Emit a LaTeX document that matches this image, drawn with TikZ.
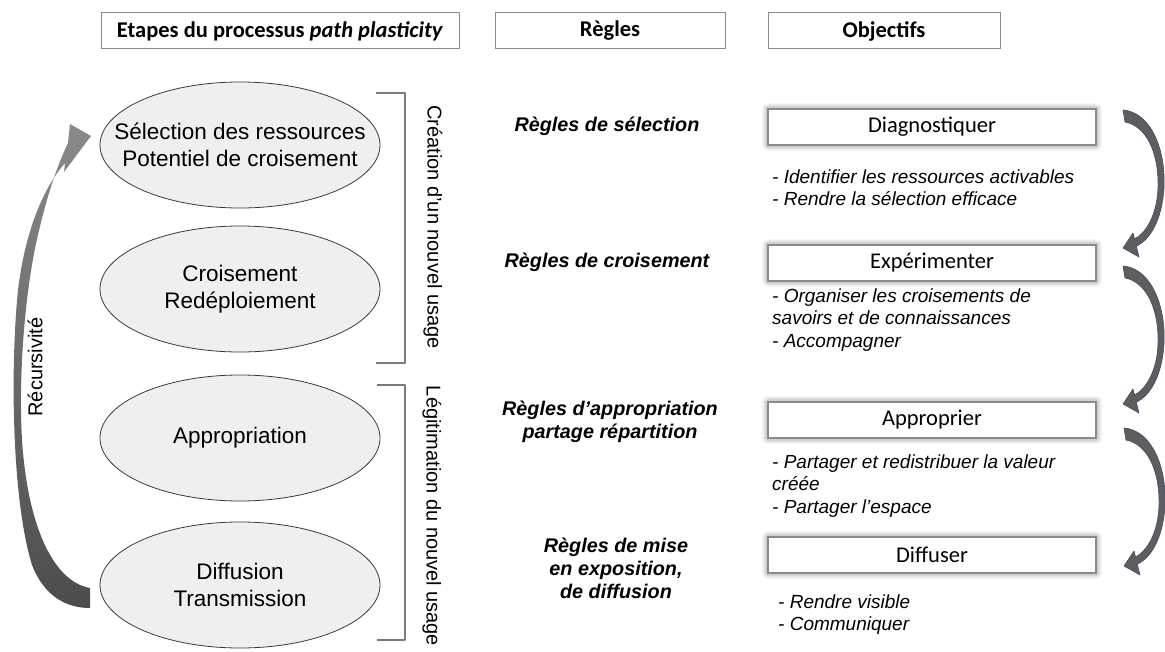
\documentclass[tikz,border=0pt]{standalone}
\usepackage{fontspec}
\setmainfont{Liberation Sans}
\newfontfamily\calibri{Carlito}
\usetikzlibrary{shapes.geometric,shadows.blur}

\definecolor{ellfill}{HTML}{EFEFEF}
\definecolor{ellline}{HTML}{3A3A3A}
\definecolor{boxline}{HTML}{8A8A8A}
\definecolor{brk}{HTML}{7A7A7A}
\definecolor{arrfill}{HTML}{5E5E5E}
\definecolor{arrline}{HTML}{3F4D6B}

\begin{document}
\begin{tikzpicture}[x=1pt,y=-1pt,
  hdr/.style={draw=boxline, line width=1pt, fill=white, minimum height=36pt, inner sep=0pt,
    font=\calibri\bfseries\fontsize{22.5}{26}\selectfont},
  stage/.style={ellipse, draw=ellline, line width=0.8pt, fill=ellfill, minimum width=280pt,
    minimum height=126pt, inner sep=0pt},
  stagetext/.style={align=center, inner sep=0pt, font=\fontsize{22.5}{26.5}\selectfont},
  rule/.style={align=center, inner sep=0pt, font=\bfseries\itshape\fontsize{19.8}{23}\selectfont},
  obj/.style={draw=boxline, line width=1.3pt, fill=white, minimum width=328pt, minimum height=36pt,
    inner sep=0pt, font=\calibri\fontsize{22.5}{26}\selectfont,
    blur shadow={shadow xshift=0pt, shadow yshift=0pt, shadow blur radius=6pt, shadow opacity=60}},
  bullet/.style={anchor=west, align=left, inner sep=0pt, font=\itshape\fontsize{19}{22.5}\selectfont},
  side/.style={inner sep=0pt, font=\fontsize{20}{24}\selectfont},
  bracketline/.style={draw=brk, line width=2.2pt, line join=round},
  rarrow/.style={fill=arrfill, draw=arrline, line width=0.6pt, line join=round}
]
\path[use as bounding box] (0,0) rectangle (1165,652);

% headers
\node[hdr, minimum width=358pt] (h1) at (280,31) {Etapes du processus \textit{path plasticity}};
\node[hdr, minimum width=230pt] (h2) at (610,31) {Règles};
\node[hdr, minimum width=232pt] (h3) at (884,31) {Objectifs};

% recursion arrow
\shade[top color=black!46, bottom color=black!70]
  (90,588) .. controls (55,582) and (28,530) .. (22,440)
  .. controls (18,370) and (26,285) .. (38,235)
  .. controls (46,200) and (56,168) .. (68,143)
  -- (70,124) -- (91,136) -- (64,172) -- (65,163)
  .. controls (46,185) and (26,225) .. (18,290)
  .. controls (10,370) and (12,500) .. (32,565)
  .. controls (45,598) and (68,608) .. (90,608) -- cycle;
\node[side, rotate=90] (rec) at (35,367) {Récursivité};

% stages
\node[stage] (s1) at (240,145) {};
\node[stagetext] (s1t) at (s1) {Sélection des ressources\\Potentiel de croisement};
\node[stage] (s2) at (240,289) {};
\node[stagetext] (s2t) at (s2) {Croisement\\Redéploiement};
\node[stage] (s3) at (240,438) {};
\node[stagetext] (s3t) at (s3) {Appropriation};
\node[stage] (s4) at (240,585) {};
\node[stagetext] (s4t) at (s4) {Diffusion\\Transmission};

% brackets
\draw[bracketline] (376,93) -- (405,93) -- (405,363) -- (376,363);
\draw[bracketline] (377,385) -- (405,385) -- (405,640) -- (377,640);
\node[side, rotate=-90] (lab1) at (433,227) {Création d'un nouvel usage};
\node[side, rotate=-90] (lab2) at (432,516) {Légitimation du nouvel usage};

% rules
\node[rule] (r1) at (607,126) {Règles de sélection};
\node[rule] (r2) at (607,262) {Règles de croisement};
\node[rule] (r3) at (610,422) {Règles d'appropriation\\partage répartition};
\node[rule] (r4) at (616,568) {Règles de mise\\en exposition,\\de diffusion};

% objectives
\node[obj] (o1) at (932,127) {Diagnostiquer};
\node[obj] (o2) at (932,263) {Expérimenter};
\node[obj] (o3) at (932,420) {Approprier};
\node[obj] (o4) at (932,555) {Diffuser};

\node[bullet] (b1) at (772,187.5) {- Identifier les ressources activables\\- Rendre la sélection efficace};
\node[bullet] (b2) at (772,320) {- Organiser les croisements de\\savoirs et de connaissances\\- Accompagner};
\node[bullet] (b3) at (772,486) {- Partager et redistribuer la valeur\\créée\\- Partager l'espace};
\node[bullet] (b4) at (778,614.5) {- Rendre visible\\- Communiquer};

% right curved arrows
\foreach \sx/\sy in {1123/110, 1123/266, 1124/428}{
  \begin{scope}[shift={(\sx,\sy)}]
    \draw[rarrow] (0,0) .. controls (27,2) and (43,38) .. (41,78)
      .. controls (39,110) and (27,130) .. (13.3,136.2)
      -- (16,147) -- (0,138) -- (10,123) -- (11.5,129)
      .. controls (23,123) and (34,105) .. (35,78)
      .. controls (36,42) and (23,16) .. (2,12) -- cycle;
  \end{scope}
}
\end{tikzpicture}
\end{document}
